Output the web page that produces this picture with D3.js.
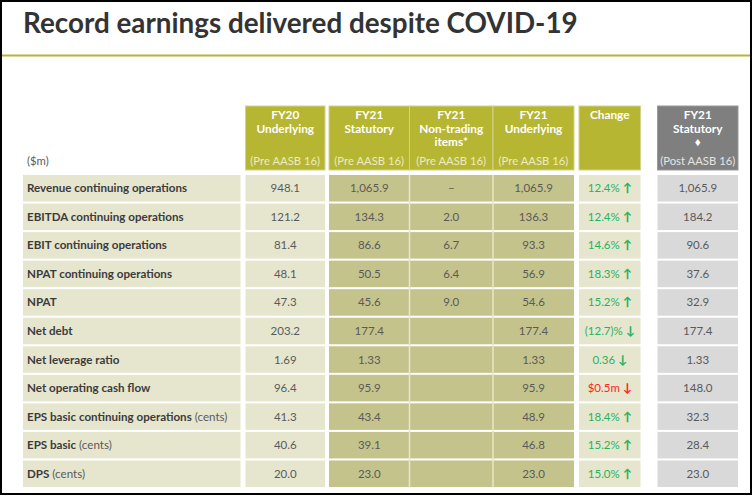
<!DOCTYPE html>
<html><head><meta charset="utf-8">
<script src="https://cdn.jsdelivr.net/npm/d3@7/dist/d3.min.js"></script>
<style>body{margin:0;background:#fff;} svg{display:block;}</style>
</head><body>
<svg id="c" width="752" height="496"></svg>
<script>
const title = "Record earnings delivered despite COVID-19";
const unitLabel = "($m)";
const rowLabels = ["Revenue continuing operations","EBITDA continuing operations","EBIT continuing operations","NPAT continuing operations","NPAT","Net debt","Net leverage ratio","Net operating cash flow","EPS basic continuing operations","EPS basic","DPS"];
const rowUnits = ["","","","","","","","","(cents)","(cents)","(cents)"];
const rowDecimals = [1,1,1,1,1,1,2,1,1,1,1];
const fy20Underlying = [948.1,121.2,81.4,48.1,47.3,203.2,1.69,96.4,41.3,40.6,20.0];
const fy21Statutory = [1065.9,134.3,86.6,50.5,45.6,177.4,1.33,95.9,43.4,39.1,23.0];
const fy21NonTrading = ["–",2.0,6.7,6.4,9.0,null,null,null,null,null,null];
const fy21Underlying = [1065.9,136.3,93.3,56.9,54.6,177.4,1.33,95.9,48.9,46.8,23.0];
const changeLabels = ["12.4%","12.4%","14.6%","18.3%","15.2%","(12.7)%","0.36","$0.5m","18.4%","15.2%","15.0%"];
const changeDirection = ["up","up","up","up","up","down","down","down","up","up","up"];
const changeFavourable = [true,true,true,true,true,true,true,false,true,true,true];
const fy21PostAASB = [1065.9,184.2,90.6,37.6,32.9,177.4,1.33,148.0,32.3,28.4,23.0];
const headerLines = [
  ["FY20","Underlying"],
  ["FY21","Statutory"],
  ["FY21","Non-trading","items*"],
  ["FY21","Underlying"],
  ["Change"],
  ["FY21","Statutory","♦"]
];
const headerSubs = ["(Pre AASB 16)","(Pre AASB 16)","(Pre AASB 16)","(Pre AASB 16)","","(Post AASB 16)"];

// layout / style
const W = 752, H = 496;
const C = {
  olive:"#b7b632", oliveBorder:"#d3d28e", light:"#e6e6cf", dark:"#c5c38c",
  grey:"#d9d9d9", greyHead:"#7f7f7f", text:"#5a5a5a", label:"#3b3b3b",
  green:"#27b35e", red:"#ff2424"
};
const FONT = "Lato, 'Open Sans', sans-serif";
const svg = d3.select("#c");

// outer frame, title, rule
svg.append("rect").attr("x",1).attr("y",1).attr("width",W-2).attr("height",H-3)
  .attr("fill","#fff").attr("stroke","#000").attr("stroke-width",2);
const t = svg.append("text").attr("x",23).attr("y",33).attr("font-family",FONT)
  .attr("font-weight",700).attr("font-size",25).attr("fill","#333").text(title);
const tw = t.node().getComputedTextLength();
t.attr("font-size", 25*555/tw);
svg.append("line").attr("x1",2).attr("x2",W-2).attr("y1",55.5).attr("y2",55.5)
  .attr("stroke",C.olive).attr("stroke-width",2);

// columns: [x0,x1] boundaries
const colEdges = [[245.5,325],[329,409.5],[409.5,493],[493,574],[579,640.5],[657.5,738]];
const labelCol = [23,240.5];
const colFill = [C.light,C.dark,C.dark,C.dark,C.light,C.grey];

const y = d3.scaleBand().domain(d3.range(rowLabels.length)).range([175,487]).paddingInner(0.07).paddingOuter(0);

// header
const headTop = 106, headBottom = 170;
const hg = svg.append("g");
colEdges.forEach((e,i)=>{
  hg.append("rect").attr("x",e[0]).attr("y",headTop).attr("width",e[1]-e[0]).attr("height",headBottom-headTop)
    .attr("fill", i===5?C.greyHead:C.olive)
    .attr("stroke", i===5?"#9a9a9a":C.oliveBorder).attr("stroke-width",1);
  const cx=(e[0]+e[1])/2;
  headerLines[i].forEach((ln,j)=>{
    hg.append("text").attr("x",cx).attr("y",119+j*13.5).attr("text-anchor","middle")
      .attr("font-family",FONT).attr("font-weight",700).attr("font-size",11.8)
      .attr("fill","#fff").text(ln);
  });
  if(headerSubs[i]) hg.append("text").attr("x",cx).attr("y",165).attr("text-anchor","middle")
      .attr("font-family",FONT).attr("font-size",11.3).attr("fill", i===5?"#e4e4e4":"#ecebc4").text(headerSubs[i]);
});
svg.append("text").attr("x",27).attr("y",165).attr("font-family",FONT).attr("font-size",11.3)
  .attr("fill",C.text).text(unitLabel);

// body
const fmt = (v,d)=> v==null? "" : (typeof v==="string"? v : d3.format(",."+d+"f")(v));
const columnsData = [fy20Underlying,fy21Statutory,fy21NonTrading,fy21Underlying,null,fy21PostAASB];
const bg = svg.append("g");
rowLabels.forEach((lab,r)=>{
  const y0 = y(r), h = y.bandwidth();
  bg.append("rect").attr("x",labelCol[0]).attr("y",y0).attr("width",labelCol[1]-labelCol[0]).attr("height",h)
    .attr("fill",C.light);
  colEdges.forEach((e,i)=>{
    bg.append("rect").attr("x",e[0]).attr("y",y0).attr("width",e[1]-e[0]).attr("height",h)
      .attr("fill",colFill[i]);
  });
});
[409.5,493].forEach(x=>{
  bg.append("line").attr("x1",x).attr("x2",x).attr("y1",175).attr("y2",487)
    .attr("stroke","#e8e7c9").attr("stroke-width",1.5);
});
const tg = svg.append("g");
rowLabels.forEach((lab,r)=>{
  const cy = y(r)+y.bandwidth()/2+4;
  const lt = tg.append("text").attr("x",27).attr("y",cy).attr("font-family",FONT).attr("font-size",11.6).attr("fill",C.label);
  lt.append("tspan").attr("font-weight",700).text(lab);
  if(rowUnits[r]) lt.append("tspan").attr("fill",C.text).text(" "+rowUnits[r]);
  columnsData.forEach((arr,i)=>{
    const cx=(colEdges[i][0]+colEdges[i][1])/2;
    if(arr){
      tg.append("text").attr("x",cx).attr("y",cy).attr("text-anchor","middle")
        .attr("font-family",FONT).attr("font-size",11.5).attr("fill",C.text).text(fmt(arr[r],rowDecimals[r]));
    } else {
      const col = changeFavourable[r]?C.green:C.red;
      const ct = tg.append("text").attr("x",cx).attr("y",cy).attr("text-anchor","middle")
        .attr("font-family",FONT).attr("font-size",11.5).attr("fill",col);
      ct.append("tspan").text(changeLabels[r]+" ");
      ct.append("tspan").attr("font-weight",900).attr("font-size",12).text(changeDirection[r]==="up"?"↑":"↓");
    }
  });
});
</script>
</body></html>
